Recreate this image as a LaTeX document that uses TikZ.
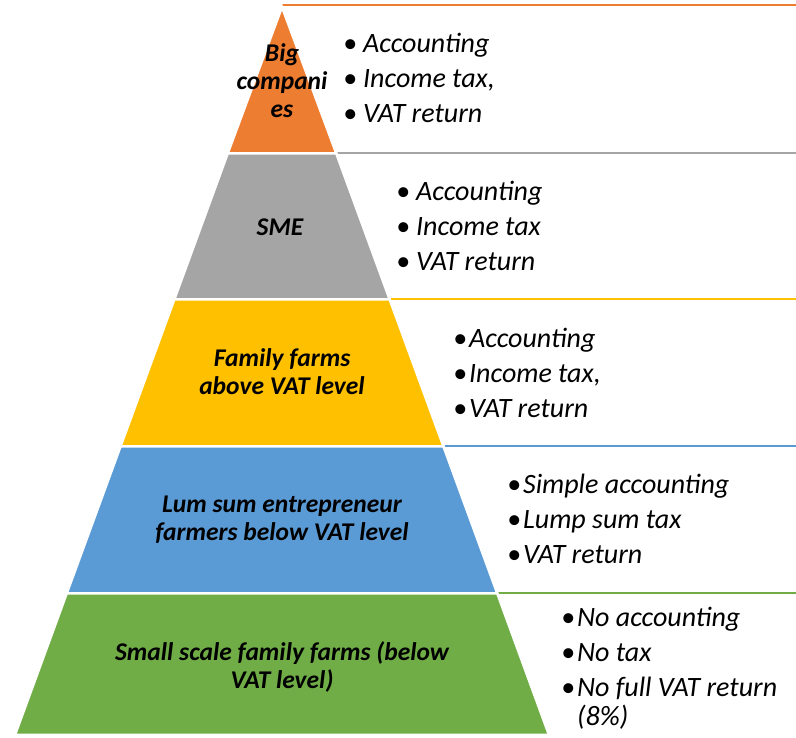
\documentclass[tikz,border=0pt]{standalone}
\usepackage{fontspec}
\setmainfont{Carlito}
\definecolor{bigorange}{HTML}{ED7D31}
\definecolor{smegray}{HTML}{A5A5A5}
\definecolor{famyellow}{HTML}{FFC000}
\definecolor{lumblue}{HTML}{5B9BD5}
\definecolor{smallgreen}{HTML}{70AD47}
\newcommand{\bl}{\textbullet}

\begin{document}
\begin{tikzpicture}[x=1pt,y=1pt,
  band/.style={draw=white, line width=2.5pt},
  rule/.style={line width=2pt},
  lbl/.style={font=\fontsize{25.5}{28}\selectfont\bfseries\itshape, align=center, inner sep=0pt},
  lst/.style={font=\fontsize{28}{35}\selectfont\itshape, anchor=west, inner sep=0pt}]
\useasboundingbox (0,0) rectangle (796,738);

% corners of the pyramid
\coordinate (a) at (282,731);
\coordinate (t0) at (282,733);
\coordinate (l1) at (227.7,584.5);
\coordinate (r1) at (336.3,584.5);
\coordinate (l2) at (174.3,438.5);
\coordinate (r2) at (389.7,438.5);
\coordinate (l3) at (120.5,291.5);
\coordinate (r3) at (443.5,291.5);
\coordinate (l4) at (66.7,144.5);
\coordinate (r4) at (497.3,144.5);
\coordinate (l5) at (15,3);
\coordinate (r5) at (549,3);
% right ends of the rules
\coordinate (e0) at (796,733);
\coordinate (e1) at (796,584.5);
\coordinate (e2) at (796,438.5);
\coordinate (e3) at (796,291.5);
\coordinate (e4) at (796,144.5);

\draw[rule, bigorange] (t0) -- (e0);
\draw[rule, smegray] (r1) -- (e1);
\draw[rule, famyellow] (r2) -- (e2);
\draw[rule, lumblue] (r3) -- (e3);
\draw[rule, smallgreen] (r4) -- (e4);

\filldraw[band, fill=bigorange] (a) -- (r1) -- (l1) -- cycle;
\filldraw[band, fill=smegray] (l1) -- (r1) -- (r2) -- (l2) -- cycle;
\filldraw[band, fill=famyellow] (l2) -- (r2) -- (r3) -- (l3) -- cycle;
\filldraw[band, fill=lumblue] (l3) -- (r3) -- (r4) -- (l4) -- cycle;
\filldraw[band, fill=smallgreen] (l4) -- (r4) -- (r5) -- (l5) -- cycle;

\node[lbl] (big) at (282,657) {Big\\compani\\es};
\node[lbl] (sme) at (280,511) {SME};
\node[lbl] (fam) at (282,366) {Family farms\\above VAT level};
\node[lbl] (lum) at (282,218.5) {Lum sum entrepreneur\\farmers below VAT level};
\node[lbl] (small) at (282,71) {Small scale family farms (below\\VAT level)};

\node[lst] (bigl) at (343,657) {\begin{tabular}{@{}l@{\hspace{6pt}}l@{}}
  \bl & Accounting\\ \bl & Income tax,\\ \bl & VAT return\end{tabular}};
\node[lst] (smel) at (396,509) {\begin{tabular}{@{}l@{\hspace{6pt}}l@{}}
  \bl & Accounting\\ \bl & Income tax\\ \bl & VAT return\end{tabular}};
\node[lst] (faml) at (453,362) {\begin{tabular}{@{}l@{\hspace{2pt}}l@{}}
  \bl & Accounting\\ \bl & Income tax,\\ \bl & VAT return\end{tabular}};
\node[lst] (luml) at (507,216) {\begin{tabular}{@{}l@{\hspace{2pt}}l@{}}
  \bl & Simple accounting\\ \bl & Lump sum tax\\ \bl & VAT return\end{tabular}};
\node[lst] (smalll) at (561,69) {\begin{tabular}{@{}l@{\hspace{2pt}}l@{}}
  \bl & No accounting\\ \bl & No tax\\ \bl & No full VAT return\\[-6pt] & (8\%)\end{tabular}};
\end{tikzpicture}
\end{document}
